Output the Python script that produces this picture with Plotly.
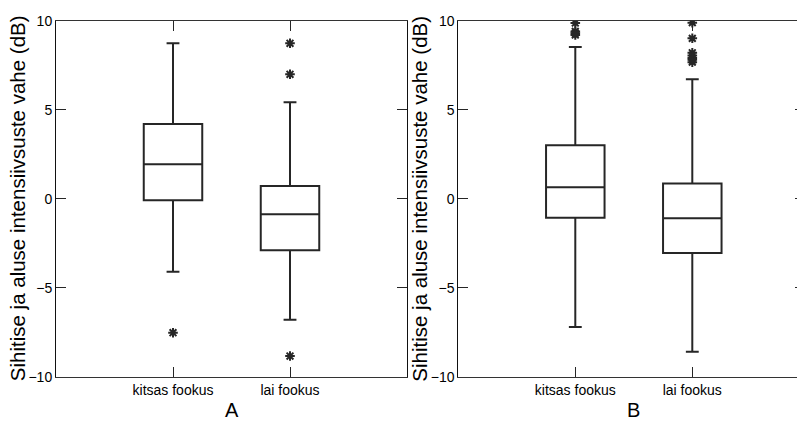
import plotly.graph_objects as go

# ---- data ----
categories = ["kitsas fookus", "lai fookus"]
cat_pos = [1, 2]
y_ticks = [-10, -5, 0, 5, 10]

A_q1 = [-0.09, -2.90]
A_median = [1.93, -0.88]
A_q3 = [4.20, 0.71]
A_lower = [-4.10, -6.80]
A_upper = [8.73, 5.42]
A_out_kitsas = [-7.53]
A_out_lai = [8.73, 6.99, -8.84]

B_q1 = [-1.07, -3.05]
B_median = [0.64, -1.10]
B_q3 = [3.00, 0.86]
B_lower = [-7.21, -8.60]
B_upper = [8.52, 6.71]
B_out_kitsas = [9.87, 9.40, 9.30, 9.20]
B_out_lai = [9.89, 9.01, 8.20, 8.05, 7.90, 7.80, 7.67]

panel_labels = ["A", "B"]
y_title = "Sihitise ja aluse intensiivsuste vahe (dB)"

FONT = "Liberation Sans, Arial, sans-serif"
DARK = "#262626"

# window size and page offset (default body margin of the html page)
WIN_W, WIN_H = 805, 422
OFF = 8
W, H = WIN_W - OFF, WIN_H - OFF


def px(x):
    return (x - OFF) / W


def py(y):
    return 1 - (y - OFF) / H


fig = go.Figure()


def add_panel(xa, ya, q1, med, q3, lo, hi, out1, out2):
    fig.add_trace(go.Box(
        x=cat_pos, q1=q1, median=med, q3=q3, lowerfence=lo, upperfence=hi,
        width=0.5, whiskerwidth=0.22, boxpoints=False,
        fillcolor="white", line=dict(color=DARK, width=2),
        xaxis=xa, yaxis=ya, showlegend=False, hoverinfo="skip"))
    for pos, vals in zip(cat_pos, [out1, out2]):
        fig.add_trace(go.Scatter(
            x=[pos] * len(vals), y=vals, mode="markers",
            marker=dict(symbol="asterisk", size=8, color=DARK,
                        line=dict(color=DARK, width=2)),
            xaxis=xa, yaxis=ya, showlegend=False, hoverinfo="skip"))


add_panel("x", "y", A_q1, A_median, A_q3, A_lower, A_upper, A_out_kitsas, A_out_lai)
add_panel("x2", "y2", B_q1, B_median, B_q3, B_lower, B_upper, B_out_kitsas, B_out_lai)

# invisible trace to carry the right-hand ticks of panel B
fig.add_trace(go.Scatter(x=[1], y=[0], mode="markers", marker=dict(opacity=0),
                         xaxis="x2", yaxis="y3", showlegend=False, hoverinfo="skip"))

# plot-area geometry in window pixels
A_left, A_right = 56, 407
B_left = 458.3
top, bottom = 20.7, 376.7
panel_w = A_right - A_left
B_xmax = 3 * (WIN_W - B_left) / panel_w

tickfont = dict(family=FONT, size=14, color="black")

xcommon = dict(tickvals=cat_pos, ticktext=categories, ticks="inside", ticklen=10,
               tickwidth=1, tickcolor=DARK, showline=True, linecolor="#333333",
               linewidth=1.3, mirror="ticks", showgrid=False, zeroline=False,
               tickfont=tickfont, automargin=False)
ycommon = dict(range=[-10, 10], tickvals=y_ticks, ticks="inside", ticklen=10,
               tickwidth=1, tickcolor=DARK, showline=True, linecolor="#111111",
               linewidth=1, showgrid=False, zeroline=False,
               tickfont=tickfont, automargin=False)

fig.update_layout(
    width=W, height=H,
    margin=dict(l=0, r=0, t=0, b=0),
    paper_bgcolor="white", plot_bgcolor="white",
    font=dict(family=FONT, color="black"),
    xaxis=dict(domain=[px(A_left), px(A_right)], range=[0, 3], anchor="y", **xcommon),
    yaxis=dict(domain=[py(bottom), py(top)], anchor="x", mirror="ticks", **ycommon),
    xaxis2=dict(domain=[px(B_left), 1.0], range=[0, B_xmax], anchor="y2", **xcommon),
    yaxis2=dict(domain=[py(bottom), py(top)], anchor="x2", mirror=False, **ycommon),
    yaxis3=dict(range=[-10, 10], tickvals=y_ticks, ticks="inside", ticklen=10,
                tickwidth=1, tickcolor=DARK, showline=False, showgrid=False,
                zeroline=False, showticklabels=False, overlaying="y2",
                side="right", anchor="x2"),
)

mid_y = py((top + bottom) / 2)
annotations = []
for xc in [17.5, 420]:
    annotations.append(dict(text=y_title, x=px(xc), y=mid_y, xref="paper", yref="paper",
                            textangle=-90, showarrow=False, xanchor="center",
                            yanchor="middle", font=dict(family=FONT, size=20.5, color="black")))
for lab, xc in zip(panel_labels, [(A_left + A_right) / 2, B_left + panel_w / 2]):
    annotations.append(dict(text=lab, x=px(xc), y=py(410), xref="paper", yref="paper",
                            showarrow=False, xanchor="center", yanchor="middle",
                            font=dict(family=FONT, size=20, color="black")))
fig.update_layout(annotations=annotations)

fig.write_html("out.html")
